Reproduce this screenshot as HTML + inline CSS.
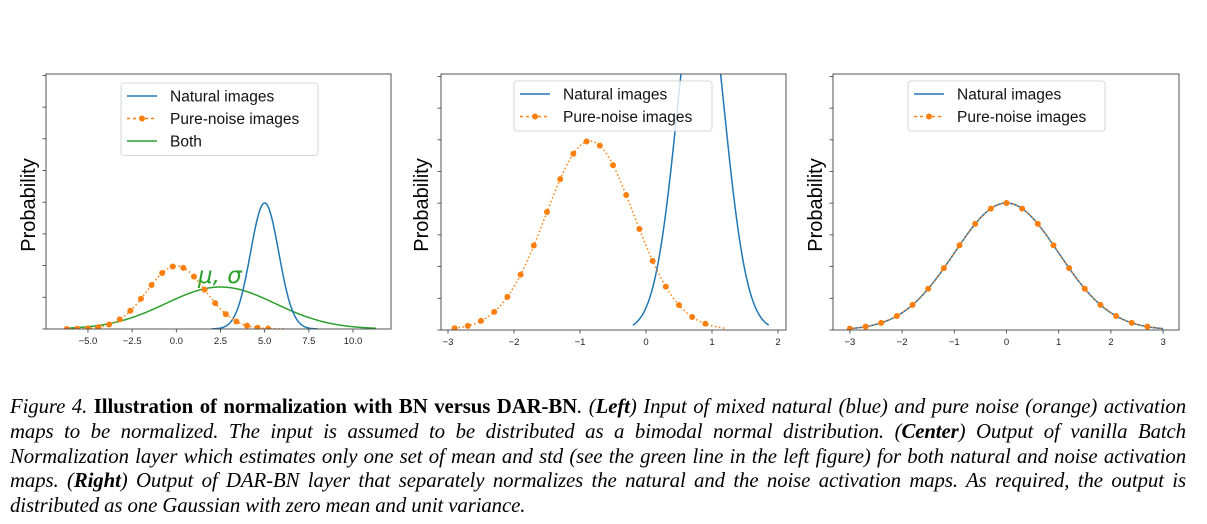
<!DOCTYPE html>
<html><head><meta charset="utf-8"><style>
body{margin:0;background:#fff;width:1207px;height:524px;overflow:hidden}
svg{position:absolute;left:0;top:0}
.cap{position:absolute;left:10px;width:1176px;font-family:"Liberation Serif",serif;font-size:20.8px;font-style:italic;text-align:justify;text-align-last:justify;white-space:nowrap;color:#000;line-height:25px;letter-spacing:-0.1px}
.cap b{font-style:normal}
.cap b i{font-style:italic}
</style></head><body>
<svg id="s" width="1207" height="380" font-family="Liberation Sans, DejaVu Sans, sans-serif">
<g font-size="20" fill="#000">
<text transform="translate(35,205) rotate(-90)" text-anchor="middle">Probability</text>
<text transform="translate(428,205) rotate(-90)" text-anchor="middle">Probability</text>
<text transform="translate(822,205) rotate(-90)" text-anchor="middle">Probability</text>
</g>
<text x="198" y="283" font-family="DejaVu Sans, sans-serif" font-style="italic" font-size="23" fill="#2ca02c">μ, σ</text>
</svg>
<div class="cap" style="top:394px">Figure 4. <b>Illustration of normalization with BN versus DAR-BN</b>. (<b><i>Left</i></b>) Input of mixed natural (blue) and pure noise (orange) activation</div>
<div class="cap" style="top:419px">maps to be normalized. The input is assumed to be distributed as a bimodal normal distribution. (<b><i>Center</i></b>) Output of vanilla Batch</div>
<div class="cap" style="top:444px">Normalization layer which estimates only one set of mean and std (see the green line in the left figure) for both natural and noise activation</div>
<div class="cap" style="top:468px">maps. (<b><i>Right</i></b>) Output of DAR-BN layer that separately normalizes the natural and the noise activation maps. As required, the output is</div>
<div class="cap" style="top:493px;text-align-last:left">distributed as one Gaussian with zero mean and unit variance.</div>
<script>
const s=document.getElementById('s');const NS='http://www.w3.org/2000/svg';
function el(t,a,txt){const e=document.createElementNS(NS,t);for(const k in a)e.setAttribute(k,a[k]);if(txt!==undefined)e.textContent=txt;s.appendChild(e);return e;}
const B='#1f77b4',O='#ff7f0e',G='#2ca02c';
function panel(L,R,T,Bt,x0,ux,ticks,fmt){
  const id='c'+L;const cp=el('clipPath',{id});const r=document.createElementNS(NS,'rect');
  r.setAttribute('x',L);r.setAttribute('y',T);r.setAttribute('width',R-L);r.setAttribute('height',Bt-T);cp.appendChild(r);
  for(let i=0;i<9;i++){const y=Bt-i*31.7;el('line',{x1:L-3.5,x2:L,y1:y,y2:y,stroke:'#333','stroke-width':0.8});}
  ticks.forEach(v=>{const x=x0+v*ux;el('line',{x1:x,x2:x,y1:Bt,y2:Bt+3.5,stroke:'#333','stroke-width':0.8});
    el('text',{x:x,y:Bt+15,'font-size':9.5,'text-anchor':'middle',fill:'#222'},fmt(v));});
  return id;
}
function curve(id,x0,ux,Bt,mu,sd,h,a,b,col,dash){
  let d='';for(let i=0;i<=300;i++){const x=a+(b-a)*i/300;const y=Bt-h*Math.exp(-((x-mu)**2)/(2*sd*sd));d+=(i?'L':'M')+(x0+x*ux).toFixed(2)+','+y.toFixed(2);}
  const p=el('path',{d,fill:'none',stroke:col,'stroke-width':1.5,'clip-path':'url(#'+id+')'});if(dash)p.setAttribute('stroke-dasharray',dash);
}
function dots(id,x0,ux,Bt,mu,sd,h,a,b,st){
  for(let x=a;x<=b+1e-6;x+=st){const y=Bt-h*Math.exp(-((x-mu)**2)/(2*sd*sd));el('circle',{cx:x0+x*ux,cy:y,r:3,fill:O,'clip-path':'url(#'+id+')'});}
}
function legend(x,y,w,items){
  el('rect',{x,y,width:w,height:items.length*22.5+5,rx:3,fill:'#fff',stroke:'#ccc','stroke-width':0.8,'fill-opacity':0.8});
  items.forEach((it,i)=>{const cy=y+13+i*22.5;
    const l=el('line',{x1:x+6,x2:x+36,y1:cy,y2:cy,stroke:it[1],'stroke-width':1.5});
    if(it[2]){l.setAttribute('stroke-dasharray','3,3');el('circle',{cx:x+21,cy,r:3,fill:O});}
    el('text',{x:x+49,y:cy+5.5,'font-size':15.5,fill:'#111'},it[0]);});
}
const m=v=>(v<0?'\u2212':'')+Math.abs(v);
const m1=v=>(v<0?'\u2212':'')+Math.abs(v).toFixed(1);
let L=46,R=391,T=74,Bt=329,x0=176.3,ux=17.67;
let id=panel(L,R,T,Bt,x0,ux,[-5,-2.5,0,2.5,5,7.5,10],m1);
curve(id,x0,ux,Bt,2.5,3.1,42,-6.3,11.3,G);
curve(id,x0,ux,Bt,5,0.8,126,2.0,8.0,B);
curve(id,x0,ux,Bt,0,1.65,63,-6.2,6.1,O,'1.5,2.5');
dots(id,x0,ux,Bt,0,1.65,63,-6.2,5.6,0.6);
el('rect',{x:L,y:T,width:R-L,height:Bt-T,fill:'none',stroke:'#444','stroke-width':0.9});
legend(121,83,197,[['Natural images',B],['Pure-noise images',O,1],['Both',G]]);
L=441;R=786;T=74;Bt=330;x0=646;ux=66;
id=panel(L,R,T,Bt,x0,ux,[-3,-2,-1,0,1,2],m);
curve(id,x0,ux,Bt,0.83,0.35,370,-0.2,1.86,B);
curve(id,x0,ux,Bt,-0.85,0.67,189,-2.9,1.2,O,'1.5,2.5');
dots(id,x0,ux,Bt,-0.85,0.67,189,-2.9,1.05,0.2);
el('rect',{x:L,y:T,width:R-L,height:Bt-T,fill:'none',stroke:'#444','stroke-width':0.9});
legend(514,81,198,[['Natural images',B],['Pure-noise images',O,1]]);
L=833;R=1179;T=74;Bt=330;x0=1006.5;ux=52.2;
id=panel(L,R,T,Bt,x0,ux,[-3,-2,-1,0,1,2,3],m);
curve(id,x0,ux,Bt,0,1,127,-3,3,B);
curve(id,x0,ux,Bt,0,1,127,-3,3,O,'1.5,2.5');
dots(id,x0,ux,Bt,0,1,127,-3,2.75,0.3);
el('rect',{x:L,y:T,width:R-L,height:Bt-T,fill:'none',stroke:'#444','stroke-width':0.9});
legend(908,81,197,[['Natural images',B],['Pure-noise images',O,1]]);
</script>
</body></html>
